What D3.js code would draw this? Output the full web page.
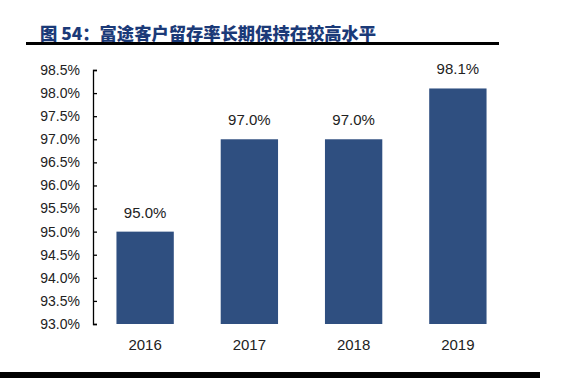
<!DOCTYPE html>
<html>
<head>
    <meta charset="utf-8">
    <script src="https://d3js.org/d3.v7.min.js"></script>
    <style>
        body { margin: 0; background: #fff; }
        svg text { font-family: "Liberation Sans", Arial, sans-serif; }
    </style>
</head>
<body>
    <svg width="566" height="378"></svg>
    <script>
        const years = ["2016", "2017", "2018", "2019"];
        const retention = [95.0, 97.0, 97.0, 98.1];
        const yTicks = [93.0, 93.5, 94.0, 94.5, 95.0, 95.5, 96.0, 96.5, 97.0, 97.5, 98.0, 98.5];
        const title = "图 54：富途客户留存率长期保持在较高水平";

        const svg = d3.select("svg");

        // title + rule
        svg.append("text")
           .attr("x", 40)
           .attr("y", 40)
           .attr("fill", "#1b3a78")
           .style("font-family", "'Noto Sans CJK SC', sans-serif")
           .style("font-weight", "900")
           .style("font-size", "17.3px")
           .text(title);

        svg.append("rect")
           .attr("x", 26).attr("y", 42)
           .attr("width", 473).attr("height", 3)
           .attr("fill", "#000");

        svg.append("rect")
           .attr("x", 0).attr("y", 372)
           .attr("width", 540).attr("height", 6)
           .attr("fill", "#000");

        const plot = { left: 93, right: 510, top: 70, bottom: 324 };

        const x = d3.scaleBand()
                    .domain(years)
                    .range([plot.left, plot.right])
                    .paddingInner(0.45)
                    .paddingOuter(0.225);

        const y = d3.scaleLinear()
                    .domain([93.0, 98.5])
                    .range([plot.bottom, plot.top]);

        const g = svg.append("g");

        g.selectAll(".bar")
         .data(years)
         .enter().append("rect")
         .attr("class", "bar")
         .attr("x", d => x(d))
         .attr("y", (d, i) => y(retention[i]))
         .attr("width", x.bandwidth())
         .attr("height", (d, i) => y(93.0) - y(retention[i]))
         .attr("fill", "#2f4f80");

        g.selectAll(".val")
         .data(years)
         .enter().append("text")
         .attr("class", "val")
         .attr("x", d => x(d) + x.bandwidth() / 2)
         .attr("y", (d, i) => y(retention[i]) - 14)
         .attr("text-anchor", "middle")
         .attr("fill", "#222")
         .style("font-size", "15px")
         .text((d, i) => retention[i].toFixed(1) + "%");

        // y axis, ticks pointing inward
        const yAxis = g.append("g")
         .attr("transform", `translate(${plot.left},0)`)
         .call(d3.axisRight(y).tickValues(yTicks).tickSize(4).tickFormat(""));
        yAxis.select(".domain").attr("stroke", "#000").attr("stroke-width", 1.3);
        yAxis.selectAll(".tick line").attr("stroke", "#000").attr("stroke-width", 1.3);

        g.selectAll(".ylab")
         .data(yTicks)
         .enter().append("text")
         .attr("class", "ylab")
         .attr("x", 80)
         .attr("y", d => y(d))
         .attr("dy", "0.35em")
         .attr("text-anchor", "end")
         .attr("fill", "#222")
         .style("font-size", "14px")
         .text(d => d.toFixed(1) + "%");

        // x labels
        const xAxis = g.append("g")
         .attr("transform", `translate(0,${plot.bottom})`)
         .call(d3.axisBottom(x).tickSize(0).tickPadding(15));
        xAxis.select(".domain").remove();
        xAxis.selectAll("text")
             .attr("fill", "#222")
             .style("font-family", "'Liberation Sans', Arial, sans-serif")
             .style("font-size", "15px");
    </script>
</body>
</html>
